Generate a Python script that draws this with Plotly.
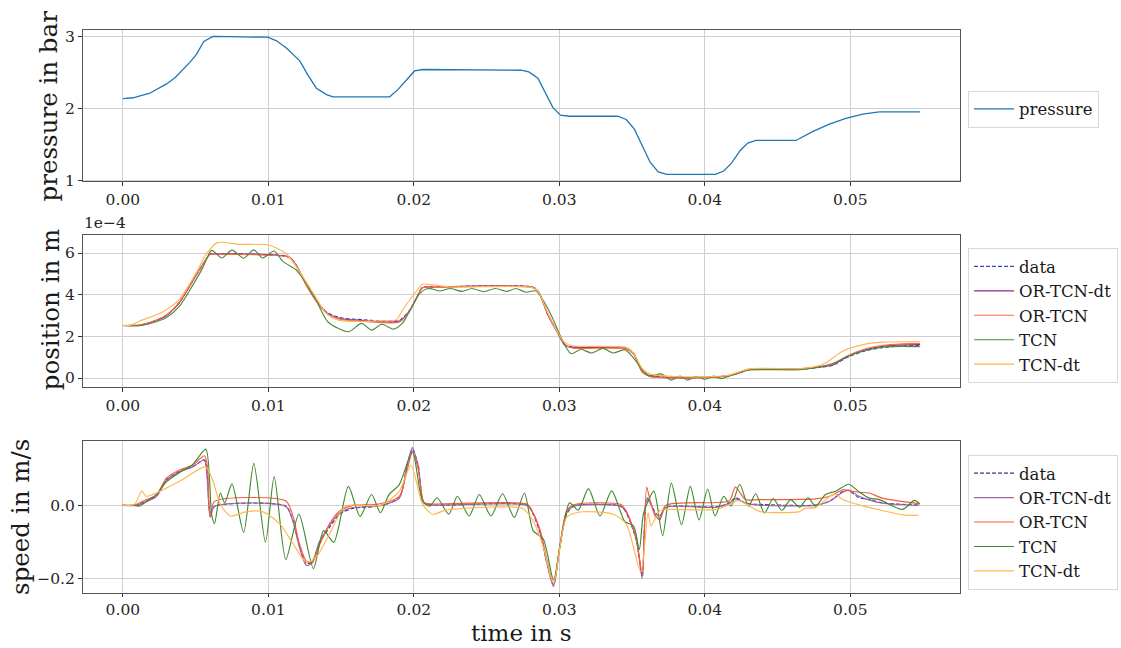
import plotly.graph_objects as go

# ---------------- data ----------------
# pressure (bar)
t_pressure = [0, 0.0007, 0.00185, 0.0023, 0.003, 0.0036, 0.00414, 0.0046, 0.00506, 0.00556, 0.0062,
              0.0095, 0.00996, 0.01056, 0.01124, 0.01216, 0.0127, 0.0133, 0.0140, 0.01444, 0.01834,
              0.0189, 0.02005, 0.0206, 0.02738, 0.0279, 0.02853, 0.02956, 0.03008, 0.0307, 0.0340,
              0.0346, 0.03516, 0.03624, 0.0368, 0.03738, 0.04073, 0.0413, 0.04185, 0.04242, 0.04295,
              0.04352, 0.04627, 0.0474, 0.04856, 0.0497, 0.05085, 0.052, 0.05314, 0.0548]
pressure = [2.135, 2.147, 2.21, 2.26, 2.34, 2.43, 2.54, 2.64, 2.75, 2.93, 3.0,
            3.0, 2.99, 2.94, 2.84, 2.66, 2.47, 2.28, 2.19, 2.16, 2.16,
            2.26, 2.52, 2.54, 2.53, 2.507, 2.42, 2.01, 1.904, 1.89, 1.89,
            1.845, 1.71, 1.25, 1.114, 1.082, 1.082, 1.128, 1.24, 1.41, 1.516,
            1.553, 1.553, 1.676, 1.78, 1.86, 1.92, 1.95, 1.952, 1.952]

# position (units of 1e-4 m)
t_pos = [0, 0.0012, 0.0023, 0.003, 0.0039, 0.0048, 0.0055, 0.006, 0.0065, 0.0099,
         0.0112, 0.0115, 0.0119, 0.0126, 0.0133, 0.014, 0.0149, 0.0165, 0.0177, 0.019,
         0.0197, 0.0202, 0.0206, 0.0215, 0.0282, 0.0286, 0.0292, 0.0298, 0.0304, 0.0309,
         0.0346, 0.0351, 0.0357, 0.0362, 0.0385, 0.0415, 0.0424, 0.0431, 0.0465, 0.0476,
         0.0488, 0.0497, 0.0509, 0.0522, 0.0536, 0.0548]
pos_data = [2.52, 2.54, 2.77, 3.01, 3.64, 4.66, 5.45, 5.95, 5.97, 5.93,
            5.86, 5.78, 5.45, 4.5, 3.72, 3.16, 2.9, 2.8, 2.74, 2.76,
            3.24, 3.87, 4.35, 4.37, 4.36, 4.11, 3.08, 2.3, 1.59, 1.5,
            1.45, 1.2, 0.33, 0.12, 0.02, 0.1, 0.25, 0.41, 0.42, 0.49,
            0.61, 0.96, 1.28, 1.46, 1.54, 1.56]
pos_ortcn_dt = [2.52, 2.53, 2.76, 3.0, 3.63, 4.66, 5.46, 5.94, 5.96, 5.92,
                5.85, 5.77, 5.42, 4.48, 3.7, 3.14, 2.86, 2.76, 2.7, 2.72,
                3.22, 3.86, 4.34, 4.36, 4.35, 4.1, 3.05, 2.27, 1.56, 1.47,
                1.42, 1.17, 0.3, 0.1, 0.01, 0.09, 0.25, 0.41, 0.42, 0.5,
                0.63, 1.0, 1.33, 1.52, 1.59, 1.6]
pos_ortcn = [2.52, 2.55, 2.78, 3.03, 3.66, 4.68, 5.47, 5.94, 5.95, 5.9,
             5.84, 5.76, 5.42, 4.47, 3.68, 3.12, 2.83, 2.72, 2.66, 2.69,
             3.2, 3.85, 4.33, 4.35, 4.34, 4.1, 3.07, 2.3, 1.6, 1.44,
             1.4, 1.15, 0.28, 0.08, 0.0, 0.09, 0.26, 0.42, 0.44, 0.52,
             0.66, 1.03, 1.37, 1.56, 1.64, 1.66]
t_pos_tcn = [0, 0.0012, 0.0023, 0.003, 0.0039, 0.0048, 0.0055, 0.0061, 0.0068, 0.0075,
             0.0083, 0.009, 0.0096, 0.0104, 0.011, 0.0119, 0.0122, 0.0132, 0.0141, 0.0155,
             0.0164, 0.0171, 0.0178, 0.0186, 0.0192, 0.0197, 0.0204, 0.021, 0.0218, 0.0225,
             0.0233, 0.024, 0.0248, 0.0256, 0.0264, 0.027, 0.0277, 0.0284, 0.0289, 0.0295,
             0.0301, 0.0308, 0.0315, 0.0322, 0.033, 0.0337, 0.0345, 0.0351, 0.0357, 0.0362,
             0.037, 0.0377, 0.0383, 0.0388, 0.0394, 0.04, 0.0406, 0.0411, 0.0422, 0.0428,
             0.0465, 0.0476, 0.0488, 0.0497, 0.0509, 0.0522, 0.0536, 0.0548]
pos_tcn = [2.52, 2.52, 2.7, 2.9, 3.45, 4.45, 5.3, 6.13, 5.76, 6.14,
           5.75, 6.15, 5.76, 6.1, 5.6, 5.2, 4.95, 3.85, 2.69, 2.22,
           2.62, 2.3, 2.58, 2.35, 2.62, 3.2, 4.05, 4.3, 4.18, 4.3,
           4.16, 4.3, 4.15, 4.3, 4.16, 4.3, 4.12, 4.18, 3.72, 2.93,
           1.98, 1.17, 1.38, 1.2, 1.42, 1.2, 1.36, 0.96, 0.41, 0.09,
           0.2, -0.1, 0.09, -0.1, 0.08, -0.06, 0.09, -0.03, 0.22, 0.38,
           0.4, 0.5, 0.7, 1.0, 1.3, 1.48, 1.52, 1.5]
t_pos_tcn_dt = [0, 0.0006, 0.0012, 0.0027, 0.0039, 0.0051, 0.0057, 0.0065, 0.008, 0.0099,
                0.0106, 0.0113, 0.0122, 0.0132, 0.014, 0.0149, 0.0177, 0.0188, 0.0192, 0.0202,
                0.0206, 0.0213, 0.0225, 0.0281, 0.0286, 0.0291, 0.0297, 0.0303, 0.0309, 0.0346,
                0.0351, 0.0357, 0.0362, 0.0385, 0.0415, 0.0424, 0.0431, 0.0465, 0.0476, 0.0483,
                0.0495, 0.0508, 0.0522, 0.0548]
pos_tcn_dt = [2.52, 2.55, 2.75, 3.16, 3.79, 5.13, 5.92, 6.5, 6.42, 6.4,
              6.23, 5.92, 5.05, 3.95, 3.08, 2.77, 2.74, 2.8, 3.24, 4.19,
              4.5, 4.47, 4.37, 4.35, 4.1, 3.3, 2.45, 1.75, 1.55, 1.47,
              1.2, 0.45, 0.2, 0.06, 0.12, 0.3, 0.45, 0.45, 0.55, 0.72,
              1.3, 1.59, 1.72, 1.74]

# speed (m/s)
t_spd = [0, 0.0007, 0.0011, 0.0016, 0.0023, 0.003, 0.0039, 0.0048, 0.0056, 0.0058,
         0.006, 0.0063, 0.0112, 0.0117, 0.0121, 0.0126, 0.013, 0.0135, 0.0142, 0.0149,
         0.0158, 0.0176, 0.019, 0.0195, 0.0199, 0.0203, 0.0207, 0.0213, 0.0278, 0.0282,
         0.0287, 0.0291, 0.0296, 0.03, 0.0305, 0.031, 0.0342, 0.0346, 0.0353, 0.0357,
         0.036, 0.0362, 0.0366, 0.0369, 0.0373, 0.0408, 0.0417, 0.0421, 0.0428, 0.0437,
         0.0476, 0.0486, 0.0495, 0.0499, 0.0506, 0.0513, 0.0522, 0.0547]
spd_data = [0, 0, 0.003, 0.012, 0.025, 0.07, 0.093, 0.106, 0.124, 0.084,
            -0.02, -0.002, -0.002, -0.042, -0.105, -0.159, -0.155, -0.105, -0.06, -0.024,
            -0.008, -0.002, 0.021, 0.10, 0.154, 0.11, 0.007, 0.001, 0.0, -0.024,
            -0.078, -0.15, -0.218, -0.124, -0.024, -0.002, -0.002, -0.02, -0.096, -0.195,
            0.021, 0.012, -0.02, -0.03, -0.005, -0.004, 0.007, 0.021, 0.007, 0.003,
            0.001, 0.012, 0.039, 0.041, 0.021, 0.016, 0.007, 0.001]
spd_ortcn_dt = [0, 0, 0.002, 0.01, 0.024, 0.068, 0.092, 0.105, 0.125, 0.07,
                -0.033, -0.003, -0.003, -0.045, -0.11, -0.164, -0.158, -0.1, -0.055, -0.02,
                -0.006, -0.001, 0.02, 0.105, 0.158, 0.105, 0.006, 0.001, 0.0, -0.022,
                -0.075, -0.15, -0.222, -0.12, -0.02, -0.002, -0.002, -0.018, -0.095, -0.2,
                0.015, 0.01, -0.025, -0.04, -0.006, -0.005, 0.006, 0.018, 0.006, 0.001,
                0.0, 0.012, 0.037, 0.042, 0.025, 0.015, 0.006, 0.0]
spd_ortcn = [0, 0, 0.006, 0.016, 0.028, 0.075, 0.097, 0.11, 0.136, 0.11,
             -0.03, 0.011, 0.012, -0.03, -0.1, -0.152, -0.158, -0.11, -0.05, -0.015,
             0.0, 0.004, 0.025, 0.09, 0.145, 0.1, 0.008, 0.004, 0.003, -0.02,
             -0.07, -0.14, -0.215, -0.12, -0.015, 0.002, 0.003, -0.015, -0.09, -0.19,
             0.05, 0.02, -0.03, -0.038, 0.0, 0.008, 0.013, 0.05, 0.016, 0.016,
             0.018, 0.025, 0.043, 0.04, 0.036, 0.034, 0.02, 0.005]
t_spd_tcn = [0, 0.0007, 0.0011, 0.0016, 0.0023, 0.003, 0.0039, 0.0048, 0.0057, 0.0061,
             0.0063, 0.0067, 0.007, 0.0075, 0.0083, 0.009, 0.0098, 0.0104, 0.0112, 0.0121,
             0.0131, 0.0138, 0.0145, 0.0155, 0.0163, 0.0171, 0.0177, 0.0183, 0.019, 0.0199,
             0.0206, 0.0211, 0.0216, 0.0224, 0.023, 0.0238, 0.0245, 0.0253, 0.0261, 0.0269,
             0.0276, 0.0282, 0.0289, 0.0296, 0.0301, 0.0307, 0.0313, 0.032, 0.0328, 0.0336,
             0.0345, 0.0351, 0.0355, 0.0358, 0.0365, 0.0371, 0.0377, 0.0384, 0.039, 0.0396,
             0.0402, 0.0407, 0.0413, 0.0418, 0.0424, 0.043, 0.0435, 0.0441, 0.0447, 0.0453,
             0.0459, 0.0465, 0.0471, 0.0476, 0.0483, 0.049, 0.0499, 0.0506, 0.0513, 0.052,
             0.0536, 0.0544, 0.0548]
spd_tcn = [0, 0, -0.002, 0.01, 0.03, 0.065, 0.09, 0.112, 0.154, -0.024,
           -0.05, 0.034, 0.007, 0.059, -0.074, 0.115, -0.101, 0.079, -0.148, -0.024,
           -0.173, -0.069, -0.101, 0.052, -0.03, 0.03, -0.02, 0.03, 0.057, 0.147,
           0.012, -0.002, 0.021, -0.024, 0.025, -0.029, 0.03, -0.029, 0.032, -0.033,
           0.034, -0.069, -0.092, -0.204, -0.1, 0.007, -0.013, 0.046, -0.029, 0.04,
           -0.044, -0.056, -0.121, -0.02, 0.039, -0.083, 0.061, -0.053, 0.052, -0.04,
           0.045, -0.029, 0.025, -0.002, 0.058, -0.002, 0.032, -0.021, 0.019, -0.014,
           0.016, -0.005, 0.021, -0.002, 0.03, 0.039, 0.058, 0.037, 0.02, 0.016,
           -0.011, 0.014, 0.003]
t_spd_tcn_dt = [0, 0.0008, 0.0013, 0.0016, 0.0039, 0.0057, 0.0062, 0.0067, 0.0074, 0.0085,
                0.0096, 0.0108, 0.0117, 0.0126, 0.0133, 0.0142, 0.0153, 0.0177, 0.019, 0.0198,
                0.0206, 0.0213, 0.0222, 0.0275, 0.0282, 0.0289, 0.0296, 0.0305, 0.0314, 0.0337,
                0.0346, 0.0356, 0.0361, 0.0363, 0.0369, 0.0373, 0.0408, 0.0417, 0.0423, 0.0431,
                0.0438, 0.0465, 0.0469, 0.0476, 0.0486, 0.0489, 0.0495, 0.0499, 0.0509, 0.0522,
                0.0536, 0.0547]
spd_tcn_dt = [0, 0.003, 0.039, 0.025, 0.066, 0.106, 0.066, 0.003, -0.029, -0.017,
              -0.017, -0.051, -0.105, -0.155, -0.141, -0.078, -0.002, 0.0, 0.039, 0.11,
              0.003, -0.024, -0.013, -0.009, -0.042, -0.114, -0.213, -0.033, -0.018, -0.024,
              -0.051, -0.182, -0.02, -0.056, -0.015, -0.011, -0.011, 0.003, 0.013, -0.002,
              -0.017, -0.017, -0.008, -0.006, 0.025, 0.031, 0.016, 0.01, -0.002, -0.014,
              -0.026, -0.027]

x_ticks = [0.0, 0.01, 0.02, 0.03, 0.04, 0.05]
model_names = ["data", "OR-TCN-dt", "OR-TCN", "TCN", "TCN-dt"]

# ---------------- style ----------------
FONT = "DejaVu Serif"
C_PRESS = "#1f77b4"
COLORS_POS = {"data": "#3545b8", "OR-TCN-dt": "#8f2a8f", "OR-TCN": "#fb6a4a",
              "TCN": "#4b8c3b", "TCN-dt": "#ffb650"}
COLORS_SPD = {"data": "#35359a", "OR-TCN-dt": "#a35ea8", "OR-TCN": "#fb5a3c",
              "TCN": "#3f8a2f", "TCN-dt": "#ffb84d"}
W = 1121
H = 648

fig = go.Figure()

fig.add_trace(go.Scatter(x=t_pressure, y=pressure, mode="lines", name="pressure",
                         line=dict(color=C_PRESS, width=1.3), xaxis="x", yaxis="y",
                         legend="legend"))

pos_series = [(t_pos, pos_data), (t_pos, pos_ortcn_dt), (t_pos, pos_ortcn),
              (t_pos_tcn, pos_tcn), (t_pos_tcn_dt, pos_tcn_dt)]
spd_series = [(t_spd, spd_data), (t_spd, spd_ortcn_dt), (t_spd, spd_ortcn),
              (t_spd_tcn, spd_tcn), (t_spd_tcn_dt, spd_tcn_dt)]

for name, (tx, ty) in zip(model_names, pos_series):
    dash = "4px,2px" if name == "data" else "solid"
    fig.add_trace(go.Scatter(x=tx, y=ty, mode="lines", name=name,
                             line=dict(color=COLORS_POS[name], width=1.15, dash=dash,
                                       shape="spline", smoothing=0.7),
                             xaxis="x2", yaxis="y2", legend="legend2"))
for name, (tx, ty) in zip(model_names, spd_series):
    dash = "4px,2px" if name == "data" else "solid"
    fig.add_trace(go.Scatter(x=tx, y=ty, mode="lines", name=name,
                             line=dict(color=COLORS_SPD[name], width=1.15, dash=dash,
                                       shape="spline", smoothing=0.7),
                             xaxis="x3", yaxis="y3", legend="legend3"))

xdom = [83 / W, 960 / W]
def ydom(top, bottom):
    return [1 - bottom / H, 1 - top / H]

tickfont = dict(family=FONT, size=15.5, color="#262626")
axis_common = dict(showline=True, mirror=True, linecolor="#555555", linewidth=1.2,
                   ticks="outside", tickwidth=1, tickcolor="#333333",
                   showgrid=True, gridcolor="#d0d0d0", gridwidth=1, zeroline=False,
                   tickfont=tickfont)
xr = [-0.00274, 0.05754]
for i, ax in enumerate(["xaxis", "xaxis2", "xaxis3"]):
    anchor = ["y", "y2", "y3"][i]
    fig.layout[ax] = dict(domain=xdom, anchor=anchor, range=xr, tickvals=x_ticks,
                          tickformat=".2f", ticklen=(3 if i == 2 else 4), **axis_common)

fig.layout.yaxis = dict(domain=ydom(28, 182), anchor="x", range=[0.986, 3.096],
                        tickvals=[1, 2, 3], ticklen=4, **axis_common)
fig.layout.yaxis2 = dict(domain=ydom(237, 391), anchor="x2", range=[-0.43, 6.85],
                         tickvals=[0, 2, 4, 6], ticklen=4, **axis_common)
fig.layout.yaxis3 = dict(domain=ydom(446, 600), anchor="x3", range=[-0.239, 0.176],
                         tickvals=[-0.2, 0.0], tickformat=".1f", ticklen=4, **axis_common)

legfont = dict(family=FONT, size=16.5, color="#1a1a1a")
leg_common = dict(bgcolor="white", bordercolor="#d8d8d8", borderwidth=1, font=legfont,
                  xanchor="left", yanchor="top", x=968 / W, itemwidth=40, tracegroupgap=0)
fig.update_layout(
    legend=dict(y=1 - 90 / H, **leg_common),
    legend2=dict(y=1 - 250 / H, **leg_common),
    legend3=dict(y=1 - 460 / H, **leg_common),
)

annotations = [
    dict(text="pressure in bar", x=48 / W, y=1 - 105 / H, textangle=-90, size=24.5),
    dict(text="position in m", x=50 / W, y=1 - 313 / H, textangle=-90, size=24.5),
    dict(text="speed in m/s", x=21 / W, y=1 - 523 / H, textangle=-90, size=24.5),
    dict(text="time in s", x=521 / W, y=1 - 641 / H, textangle=0, size=23),
]
for a in annotations:
    fig.add_annotation(xref="paper", yref="paper", showarrow=False,
                       font=dict(family=FONT, size=a["size"], color="#1a1a1a"),
                       xanchor="center", yanchor="middle", text=a["text"],
                       x=a["x"], y=a["y"], textangle=a["textangle"], borderpad=0)
fig.add_annotation(text="1e\u22124", xref="paper", yref="paper", x=82 / W, y=1 - 236 / H,
                   xanchor="left", yanchor="bottom", showarrow=False,
                   font=dict(family=FONT, size=15.5, color="#262626"))

fig.update_layout(width=W, height=H, margin=dict(l=0, r=0, t=0, b=0),
                  plot_bgcolor="white", paper_bgcolor="white", showlegend=True,
                  font=dict(family=FONT))

fig.write_html("out.html")
